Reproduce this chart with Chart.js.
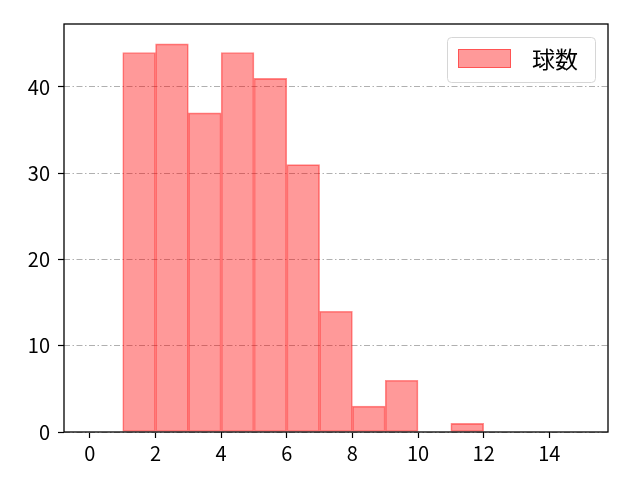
<!DOCTYPE html>
<html>
<head>
<meta charset="utf-8">
<script src="https://cdn.jsdelivr.net/npm/chart.js@4/dist/chart.umd.min.js"></script>
<style>
  html, body { margin: 0; padding: 0; background: #fff; }
</style>
</head>
<body>
<canvas id="myChart" width="640" height="480"></canvas>
<script>
// histogram bins (left edge .. left edge + 1) and counts
const binCenters = [1.5, 2.5, 3.5, 4.5, 5.5, 6.5, 7.5, 8.5, 9.5, 10.5, 11.5];
const counts = [44, 45, 37, 44, 41, 31, 14, 3, 6, 0, 1];
const seriesLabel = '球数';
const xTicks = [0, 2, 4, 6, 8, 10, 12, 14];
const yTicks = [0, 10, 20, 30, 40];

const font = "'Noto Sans CJK JP', 'DejaVu Sans', sans-serif";

// frame round the plot area + legend box
const framePlugin = {
    id: 'frame',
    afterDraw(chart) {
        const c = chart.ctx, a = chart.chartArea;
        c.save();
        c.strokeStyle = '#000';
        c.lineWidth = 1.3;
        c.setLineDash([]);
        c.strokeRect(a.left, a.top, a.right - a.left, a.bottom - a.top);

        // legend
        const bx = 447.5, by = 37.5, bw = 148, bh = 45, r = 4;
        c.beginPath();
        c.moveTo(bx + r, by);
        c.arcTo(bx + bw, by, bx + bw, by + bh, r);
        c.arcTo(bx + bw, by + bh, bx, by + bh, r);
        c.arcTo(bx, by + bh, bx, by, r);
        c.arcTo(bx, by, bx + bw, by, r);
        c.closePath();
        c.fillStyle = 'rgba(255,255,255,0.8)';
        c.fill();
        c.strokeStyle = '#d6d6d6';
        c.lineWidth = 1;
        c.stroke();
        c.fillStyle = 'rgba(255,0,0,0.4)';
        c.fillRect(458, 49, 53, 19);
        c.strokeStyle = 'rgba(255,0,0,0.45)';
        c.strokeRect(458.5, 49.5, 52, 18);
        c.fillStyle = '#000';
        c.font = '23px ' + font;
        c.textBaseline = 'middle';
        c.fillText(chart.data.datasets[0].label, 532, 59);
        c.restore();
    }
};

const ctx = document.getElementById('myChart').getContext('2d');
new Chart(ctx, {
    type: 'bar',
    data: {
        datasets: [{
            label: seriesLabel,
            data: binCenters.map((x, i) => ({ x: x, y: counts[i] })),
            backgroundColor: 'rgba(255,0,0,0.4)',
            borderColor: 'rgba(255,0,0,0.45)',
            borderWidth: 1,
            borderSkipped: false,
            barPercentage: 1,
            categoryPercentage: 1
        }]
    },
    options: {
        responsive: false,
        animation: false,
        devicePixelRatio: 1,
        layout: { padding: { left: 0, top: 24, right: 32, bottom: 0 } },
        plugins: {
            legend: { display: false },
            tooltip: { enabled: false }
        },
        scales: {
            x: {
                type: 'linear',
                min: -0.79,
                max: 15.79,
                offset: false,
                afterBuildTicks: s => { s.ticks = xTicks.map(v => ({ value: v })); },
                afterFit: s => { s.height = 48; },
                ticks: {
                    color: '#000',
                    font: { family: font, size: 20 },
                    padding: 3,
                    maxRotation: 0,
                    autoSkip: false
                },
                grid: {
                    offset: false,
                    drawOnChartArea: false,
                    drawTicks: true,
                    tickLength: 6,
                    tickColor: '#000',
                    tickWidth: 1.2
                },
                border: { display: false }
            },
            y: {
                min: 0,
                max: 47.3,
                afterBuildTicks: s => { s.ticks = yTicks.map(v => ({ value: v })); },
                afterFit: s => { s.width = 64; },
                ticks: {
                    color: '#000',
                    font: { family: font, size: 20 },
                    padding: 8,
                    autoSkip: false
                },
                grid: {
                    color: '#b0b0b0',
                    lineWidth: 1,
                    drawTicks: true,
                    tickLength: 6,
                    tickColor: '#000',
                    tickWidth: 1.2,
                    tickBorderDash: []
                },
                border: { display: false, dash: [6, 2.5, 1.5, 2.5] }
            }
        }
    },
    plugins: [framePlugin]
});
</script>
</body>
</html>
